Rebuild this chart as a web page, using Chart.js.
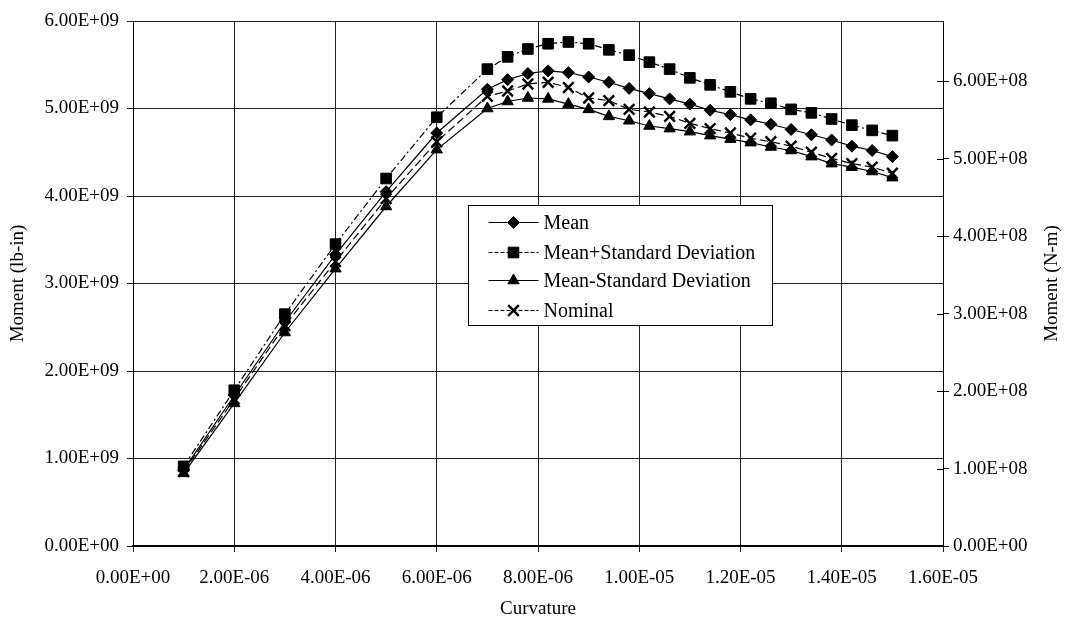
<!DOCTYPE html>
<html><head><meta charset="utf-8">
<script src="https://cdn.jsdelivr.net/npm/chart.js@4/dist/chart.umd.min.js"></script>
<style>html,body{margin:0;padding:0;background:#fff;}#wrap{width:1067px;height:626px;position:relative}</style>
</head><body><div id="wrap"><canvas id="c" width="1067" height="626"></canvas></div>
<script>
// Curvature (x) values
const curvature = [1.0e-6, 2.0e-6, 3.0e-6, 4.0e-6, 5.0e-6, 6.0e-6,
  7.0e-6, 7.4e-6, 7.8e-6, 8.2e-6, 8.6e-6, 9.0e-6, 9.4e-6, 9.8e-6, 10.2e-6, 10.6e-6, 11.0e-6,
  11.4e-6, 11.8e-6, 12.2e-6, 12.6e-6, 13.0e-6, 13.4e-6, 13.8e-6, 14.2e-6, 14.6e-6, 15.0e-6];
// Moment (lb-in)
const meanValues = [0.87e9, 1.72e9, 2.56e9, 3.33e9, 4.05e9, 4.72e9,
  5.22e9, 5.33e9, 5.40e9, 5.43e9, 5.41e9, 5.36e9, 5.30e9, 5.23e9, 5.17e9, 5.11e9, 5.05e9,
  4.98e9, 4.93e9, 4.87e9, 4.82e9, 4.76e9, 4.70e9, 4.64e9, 4.57e9, 4.52e9, 4.45e9];
const meanPlusSD = [0.91e9, 1.78e9, 2.65e9, 3.45e9, 4.20e9, 4.90e9,
  5.45e9, 5.59e9, 5.68e9, 5.74e9, 5.76e9, 5.74e9, 5.67e9, 5.61e9, 5.53e9, 5.45e9, 5.35e9,
  5.27e9, 5.19e9, 5.11e9, 5.06e9, 4.99e9, 4.95e9, 4.88e9, 4.81e9, 4.75e9, 4.69e9];
const meanMinusSD = [0.83e9, 1.63e9, 2.44e9, 3.17e9, 3.88e9, 4.53e9,
  5.00e9, 5.08e9, 5.12e9, 5.11e9, 5.05e9, 4.99e9, 4.91e9, 4.86e9, 4.80e9, 4.77e9, 4.735e9,
  4.69e9, 4.65e9, 4.61e9, 4.56e9, 4.52e9, 4.45e9, 4.37e9, 4.33e9, 4.28e9, 4.21e9];
const nominalValues = [0.85e9, 1.68e9, 2.52e9, 3.25e9, 3.97e9, 4.62e9,
  5.14e9, 5.20e9, 5.28e9, 5.30e9, 5.24e9, 5.12e9, 5.09e9, 4.99e9, 4.96e9, 4.91e9, 4.83e9,
  4.77e9, 4.72e9, 4.66e9, 4.62e9, 4.57e9, 4.50e9, 4.43e9, 4.37e9, 4.33e9, 4.26e9];
const seriesLabels = ['Mean', 'Mean+Standard Deviation', 'Mean-Standard Deviation', 'Nominal'];
// Tick values
const xTicks = [0, 2e-6, 4e-6, 6e-6, 8e-6, 1.0e-5, 1.2e-5, 1.4e-5, 1.6e-5];
const leftTicks = [0, 1e9, 2e9, 3e9, 4e9, 5e9, 6e9];
const rightTicks = [0, 1e8, 2e8, 3e8, 4e8, 5e8, 6e8];
const LBIN_TO_NM = 0.112985;
const xTitle = 'Curvature';
const leftTitle = 'Moment (lb-in)';
const rightTitle = 'Moment (N-m)';

function sci(v) {
  if (Math.abs(v) < 1e-30) return '0.00E+00';
  let e = Math.floor(Math.log10(Math.abs(v)) + 1e-9);
  let m = v / Math.pow(10, e);
  if (Math.abs(m) >= 9.995) { m /= 10; e += 1; }
  return m.toFixed(2) + 'E' + (e < 0 ? '-' : '+') + String(Math.abs(e)).padStart(2, '0');
}

const FONT = '"Liberation Serif", "Times New Roman", serif';
const styles = [
  { pointStyle: 'rectRot', radius: 6, dash: [], bw: 1 },
  { pointStyle: 'rect', radius: 7.5, dash: [7, 3, 2, 3], bw: 1 },
  { pointStyle: 'triangle', radius: 6.5, dash: [], bw: 1 },
  { pointStyle: 'crossRot', radius: 7.5, dash: [8, 4], bw: 2.4 }
];
const allValues = [meanValues, meanPlusSD, meanMinusSD, nominalValues];

const datasets = allValues.map((vals, k) => ({
  label: seriesLabels[k],
  data: curvature.map((x, i) => ({ x: x, y: vals[i] })),
  borderColor: '#000',
  backgroundColor: '#000',
  borderWidth: 1.2,
  borderDash: styles[k].dash,
  pointStyle: styles[k].pointStyle,
  pointRadius: styles[k].radius,
  pointBackgroundColor: '#000',
  pointBorderColor: '#000',
  pointBorderWidth: styles[k].bw,
  tension: 0,
  fill: false,
  yAxisID: 'y'
}));

const customPlugin = {
  id: 'custom',
  afterDraw(chart) {
    const ctx = chart.ctx;
    const ca = chart.chartArea;
    const y2 = chart.scales.y2;
    // inner cross ticks on right axis
    ctx.save();
    ctx.strokeStyle = '#000';
    ctx.lineWidth = 1;
    rightTicks.forEach(v => {
      const py = Math.round(y2.getPixelForValue(v)) + 0.5;
      ctx.beginPath();
      ctx.moveTo(ca.right - 6, py);
      ctx.lineTo(ca.right, py);
      ctx.stroke();
    });
    // right title (reads bottom to top)
    ctx.fillStyle = '#000';
    ctx.font = '19px ' + FONT;
    ctx.textAlign = 'center';
    ctx.textBaseline = 'middle';
    ctx.translate(1052, (ca.top + ca.bottom) / 2);
    ctx.rotate(-Math.PI / 2);
    ctx.fillText(rightTitle, 0, 0);
    ctx.restore();

    // legend box
    const w = ca.right - ca.left, h = ca.bottom - ca.top;
    const bx = Math.round(ca.left + w * 0.4136) + 0.5;
    const by = Math.round(ca.top + h * 0.3505) + 0.5;
    const bw = 304, bh = 120;
    ctx.save();
    ctx.fillStyle = '#fff';
    ctx.fillRect(bx, by, bw, bh);
    ctx.strokeStyle = '#000';
    ctx.lineWidth = 1;
    ctx.strokeRect(bx, by, bw, bh);
    const rows = [17, 47, 75, 105];
    chart.data.datasets.forEach((ds, k) => {
      const ry = by + rows[k];
      ctx.save();
      ctx.strokeStyle = '#000';
      ctx.lineWidth = 1.2;
      ctx.setLineDash(styles[k].dash.length ? [4, 2] : []);
      ctx.beginPath();
      ctx.moveTo(bx + 20, ry);
      ctx.lineTo(bx + 70, ry);
      ctx.stroke();
      ctx.setLineDash([]);
      ctx.fillStyle = '#000';
      ctx.lineWidth = styles[k].bw;
      Chart.helpers.drawPoint(ctx, { pointStyle: styles[k].pointStyle, radius: styles[k].radius, rotation: 0, borderWidth: styles[k].bw }, bx + 45, ry);
      ctx.restore();
      ctx.fillStyle = '#000';
      ctx.font = '20px ' + FONT;
      ctx.textAlign = 'left';
      ctx.textBaseline = 'middle';
      ctx.fillText(ds.label, bx + 75, ry + 1);
    });
    ctx.restore();
  }
};

new Chart(document.getElementById('c'), {
  type: 'line',
  data: { datasets: datasets },
  plugins: [customPlugin],
  options: {
    responsive: false,
    animation: false,
    devicePixelRatio: 1,
    layout: { padding: { top: 21, left: 0, right: 0, bottom: 0 } },
    plugins: { legend: { display: false }, tooltip: { enabled: false } },
    scales: {
      x: {
        type: 'linear', min: 0, max: 1.6e-5,
        afterBuildTicks: s => { s.ticks = xTicks.map(v => ({ value: v })); },
        afterFit: s => { s.height = 80; },
        ticks: { callback: v => sci(v), color: '#000', font: { family: FONT, size: 19 }, padding: 15, maxRotation: 0, autoSkip: false },
        grid: { color: '#222', lineWidth: 1, tickLength: 6, drawTicks: true },
        border: { color: '#000', width: 1.8 },
        title: { display: true, text: xTitle, color: '#000', font: { family: FONT, size: 19 }, padding: { top: 0, bottom: 6 } }
      },
      y: {
        type: 'linear', position: 'left', min: 0, max: 6e9,
        afterBuildTicks: s => { s.ticks = leftTicks.map(v => ({ value: v })); },
        afterFit: s => { s.width = 133; },
        ticks: { callback: v => sci(v), color: '#000', font: { family: FONT, size: 19 }, padding: 8 },
        grid: { color: '#222', lineWidth: 1, tickLength: 6 },
        border: { color: '#000', width: 1 },
        title: { display: true, text: leftTitle, color: '#000', font: { family: FONT, size: 19 }, padding: { top: 7, bottom: 0 } }
      },
      y2: {
        type: 'linear', position: 'right', min: 0, max: 6e9 * LBIN_TO_NM,
        afterBuildTicks: s => { s.ticks = rightTicks.map(v => ({ value: v })); },
        afterFit: s => { s.width = 124; },
        ticks: { callback: v => sci(v), color: '#000', font: { family: FONT, size: 19 }, padding: 4 },
        grid: { drawOnChartArea: false, color: '#000', lineWidth: 1, tickLength: 6 },
        border: { color: '#000', width: 1 },
        title: { display: false }
      }
    }
  }
});
</script></body></html>
